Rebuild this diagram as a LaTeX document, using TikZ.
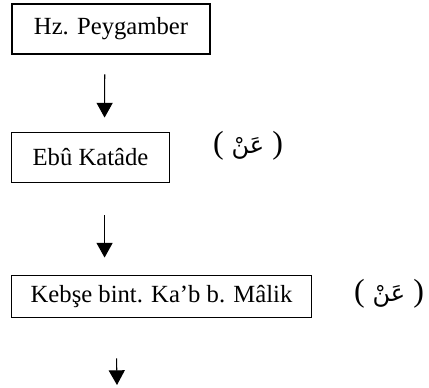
\documentclass[tikz,border=0pt]{standalone}
\usepackage{fontspec}
\setmainfont{Liberation Serif}
\newfontfamily\arabicfont[Script=Arabic]{DejaVu Sans}
\TeXXeTstate=1
\usetikzlibrary{arrows.meta,calc}

\begin{document}
\begin{tikzpicture}[x=0.75pt,y=0.75pt,yscale=-1,
  narrator/.style={draw,line width=1.4pt,inner sep=0pt,font=\fontsize{18.5}{21}\selectfont},
  an/.style={inner sep=0pt,font=\fontsize{24}{27}\selectfont},
  flow/.style={line width=0.8pt,-{Triangle[width=12pt,length=11pt]}}]
%set diagram area to the reference size
\useasboundingbox (0,0) rectangle (429,387);

% Text Node
\node [narrator,minimum width=149pt,minimum height=38pt] (peygamber) at (111,29) {Hz. Peygamber};
% Text Node
\node [narrator,minimum width=118.5pt,minimum height=37.5pt] (katade) at (90.5,157.5) {Eb\^u Kat\^ade};
% Text Node
\node [narrator,minimum width=225pt,minimum height=31.5pt] (kebse) at (161.5,296.5) {Keb\c{s}e bint. Ka’b b. M\^alik};

% Text Node
\node [an] (an1) at (248,146) {( {\arabicfont\fontsize{18}{20}\selectfont\beginR عَنْ\endR} )};
% Text Node
\node [an] (an2) at (389,294) {( {\arabicfont\fontsize{18}{20}\selectfont\beginR عَنْ\endR} )};

%Straight Lines
\draw [flow] ($(peygamber.south west)+(94,19)$) -- ($(katade.north west)+(94,-14)$);
\draw [flow] ($(katade.south west)+(94,32)$) -- ($(kebse.north west)+(94,-17)$);
\coordinate (next) at (117,385);
\draw [flow] ($(kebse.south west)+(106,40)$) -- (next);

\end{tikzpicture}
\end{document}
